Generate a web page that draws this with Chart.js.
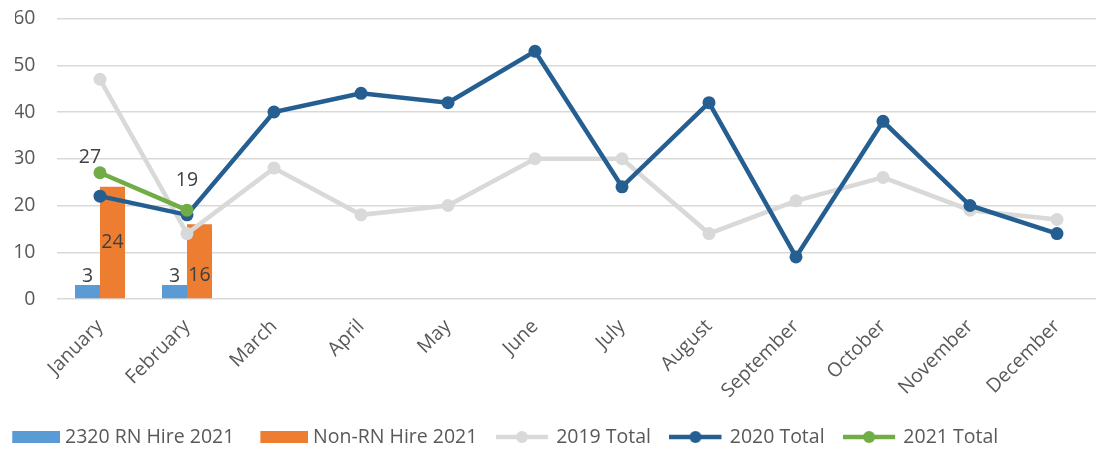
<!DOCTYPE html>
<html><head><meta charset="utf-8">
<script src="https://cdn.jsdelivr.net/npm/chart.js@4/dist/chart.umd.min.js"></script>
<style>html,body{margin:0;padding:0;overflow:hidden;background:#fff}
#wrap{width:1107px;height:452px;position:relative}</style>
</head><body><div id="wrap"><canvas id="c" width="1107" height="452"></canvas></div>
<script>
const months = ['January','February','March','April','May','June','July','August','September','October','November','December'];
const rnHire2021 = [3, 3];
const nonRnHire2021 = [24, 16];
const total2019 = [47, 14, 28, 18, 20, 30, 30, 14, 21, 26, 19, 17];
const total2020 = [22, 18, 40, 44, 42, 53, 24, 42, 9, 38, 20, 14];
const total2021 = [27, 19];
const yMin = 0, yMax = 60, yStep = 10;

const FONT = '"Open Sans", sans-serif';
const FS = 19.5, LFS = 19.5, LPAD = 25;
const C_RN = '#5b9bd5', C_NON = '#ed7d31', C19 = '#d9d9d9', C20 = '#255e91', C21 = '#70ad47';

function barIcon(color){
  const c = document.createElement('canvas'); c.width = 54; c.height = 14;
  const x = c.getContext('2d'); x.fillStyle = color; x.fillRect(6, 1, 48, 12);
  return c;
}
function lineIcon(color){
  const c = document.createElement('canvas'); c.width = 57; c.height = 14;
  const x = c.getContext('2d'); x.strokeStyle = color; x.lineWidth = 4.5;
  x.beginPath(); x.moveTo(0, 7); x.lineTo(52, 7); x.stroke();
  x.fillStyle = color; x.beginPath(); x.arc(26, 7, 6, 0, Math.PI*2); x.fill();
  return c;
}

const valueLabels = {
  id: 'valueLabels',
  afterDatasetsDraw(chart, args, opts){
    const ctx = chart.ctx;
    ctx.save();
    ctx.font = FS + 'px ' + FONT; ctx.fillStyle = '#404040';
    ctx.textAlign = 'center'; ctx.textBaseline = 'middle';
    opts.items.forEach(it => {
      const meta = chart.getDatasetMeta(it.dataset);
      const data = chart.data.datasets[it.dataset].data;
      meta.data.forEach((el, i) => {
        const p = it.pos[i] || it.pos[0];
        let x = el.x + (p.dx || 0), y;
        if (p.anchor === 'center') y = (el.y + el.base) / 2;
        else if (p.anchor === 'base') y = el.base - p.d;
        else y = el.y - p.d;
        ctx.fillText(String(data[i]), x, y);
      });
    });
    ctx.restore();
  },
  afterLayout(chart){
    const lg = chart.legend;
    const dx = 11.25 - (lg.left + LPAD);
    lg.left += dx; lg.right += dx;
    const h = lg.height;
    lg.top = 402.25; lg.bottom = lg.top + h;
  }
};

function draw(){
  new Chart(document.getElementById('c'), {
    type: 'bar',
    data: {
      labels: months,
      datasets: [
        {label: '2320 RN Hire 2021', data: rnHire2021, backgroundColor: C_RN, order: 4, categoryPercentage: 0.575, barPercentage: 1},
        {label: 'Non-RN Hire 2021', data: nonRnHire2021, backgroundColor: C_NON, order: 5, categoryPercentage: 0.575, barPercentage: 1},
        {type: 'line', label: '2019 Total', data: total2019, borderColor: C19, backgroundColor: C19, borderWidth: 4.5, pointRadius: 6.5, pointHoverRadius: 6.5, pointBorderWidth: 0, order: 3, tension: 0},
        {type: 'line', label: '2020 Total', data: total2020, borderColor: C20, backgroundColor: C20, borderWidth: 4.5, pointRadius: 6.5, pointHoverRadius: 6.5, pointBorderWidth: 0, order: 2, tension: 0},
        {type: 'line', label: '2021 Total', data: total2021, borderColor: C21, backgroundColor: C21, borderWidth: 4.5, pointRadius: 6.5, pointHoverRadius: 6.5, pointBorderWidth: 0, order: 1, tension: 0}
      ]
    },
    options: {
      responsive: false,
      animation: false,
      events: [],
      layout: {padding: {left: 15, right: 0, top: 18.5, bottom: 0}},
      scales: {
        x: {
          offset: true,
          grid: {display: false},
          border: {display: false},
          ticks: {color: '#595959', font: {family: FONT, size: FS}, minRotation: 45, maxRotation: 45, padding: 8, autoSkip: false},
          afterFit(s){ s.height = 98.5; s.paddingLeft = 0; s.paddingRight = 0; }
        },
        y: {
          min: yMin, max: yMax,
          grid: {color: '#d9d9d9', lineWidth: 1.5, drawTicks: false},
          border: {display: false},
          ticks: {stepSize: yStep, color: '#595959', font: {family: FONT, size: FS}, padding: 21},
          afterFit(s){ s.width = 41.5; s.paddingTop = 0; s.paddingBottom = 0; }
        }
      },
      plugins: {
        tooltip: {enabled: false},
        legend: {
          position: 'bottom',
          align: 'start',
          labels: {
            usePointStyle: true,
            pointStyleWidth: 44,
            padding: LPAD,
            color: '#595959',
            font: {family: FONT, size: LFS},
            generateLabels(chart){
              return chart.data.datasets.map((d, i) => ({
                text: d.label,
                pointStyle: d.type === 'line' ? lineIcon(d.borderColor) : barIcon(d.backgroundColor),
                fillStyle: 'transparent', strokeStyle: 'transparent', lineWidth: 0,
                fontColor: '#595959', hidden: false, datasetIndex: i
              }));
            }
          }
        },
        valueLabels: {
          items: [
            {dataset: 0, pos: [{anchor: 'top', d: 9}]},
            {dataset: 1, pos: [{anchor: 'center'}, {anchor: 'base', d: 23}]},
            {dataset: 4, pos: [{anchor: 'top', d: 15, dx: -10}, {anchor: 'top', d: 30}]}
          ]
        }
      }
    },
    plugins: [valueLabels]
  });
}
document.fonts.load(FS + 'px "Open Sans"').then(draw, draw);
</script>
</body></html>
